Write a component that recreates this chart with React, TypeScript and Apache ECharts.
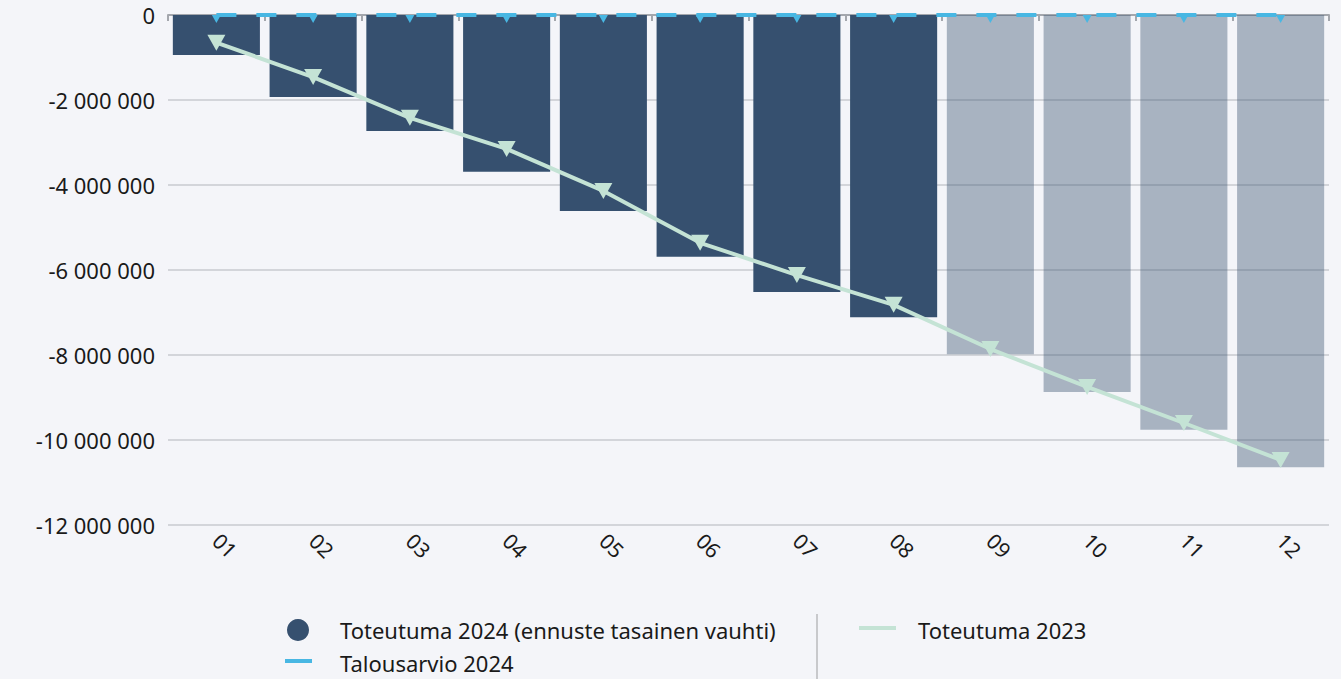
import React, { useEffect, useRef } from "react";
import * as echarts from "echarts";

const months = ["01", "02", "03", "04", "05", "06", "07", "08", "09", "10", "11", "12"];
const toteutuma2024 = [-940000, -1930000, -2730000, -3690000, -4610000, -5690000, -6520000, -7110000, -7980000, -8870000, -9760000, -10640000];
const forecastFrom = 8; // index of first forecast month (09)
const talousarvio2024 = [0, 0, 0, 0, 0, 0, 0, 0, 0, 0, 0, 0];
const toteutuma2023 = [-650000, -1460000, -2420000, -3150000, -4140000, -5360000, -6120000, -6820000, -7860000, -8750000, -9600000, -10470000];
const yTicks = { min: -12000000, max: 0, interval: 2000000 };

const FONT = "'Noto Sans', 'Open Sans', sans-serif";
const BG = "#f4f5f9";
const BAR = "#36506f";
const BLUE = "#48b7e3";
const MINT = "#c4e3d5";
const TXT = "#1a1a1a";

const fmt = (v: number) => {
  const s = Math.abs(v).toString().replace(/\B(?=(\d{3})+(?!\d))/g, " ");
  return (v < 0 ? "-" : "") + s;
};

export default function App() {
  const ref = useRef<HTMLDivElement>(null);
  useEffect(() => {
    document.body.style.margin = "0";
    document.body.style.background = BG;
    const chart = echarts.init(ref.current!, undefined, { renderer: "svg" });
    chart.setOption({
      animation: false,
      backgroundColor: BG,
      textStyle: { fontFamily: FONT },
      grid: { left: 168, right: 12, top: 15, bottom: 154, containLabel: false },
      xAxis: {
        type: "category",
        data: months,
        boundaryGap: true,
        axisLine: { lineStyle: { color: "#a4a7ad", width: 2 } },
        axisTick: { show: true, length: 6, lineStyle: { color: "#a4a7ad", width: 2 } },
        axisLabel: { rotate: -45, color: TXT, fontSize: 21, fontFamily: FONT, margin: 12 },
      },
      yAxis: {
        type: "value",
        min: yTicks.min,
        max: yTicks.max,
        interval: yTicks.interval,
        axisLine: { show: false },
        axisTick: { show: false },
        splitLine: { lineStyle: { color: "#d3d5da", width: 2 } },
        axisLabel: { color: TXT, fontSize: 22, fontFamily: FONT, margin: 13, formatter: fmt },
      },
      series: [
        {
          name: "Toteutuma 2024 (ennuste tasainen vauhti)",
          type: "bar",
          barCategoryGap: "10%",
          data: toteutuma2024.map((v, i) => ({
            value: v,
            itemStyle: { color: BAR, opacity: i >= forecastFrom ? 0.4 : 1 },
          })),
          z: 2,
        },
        {
          name: "Talousarvio 2024",
          type: "line",
          data: talousarvio2024,
          lineStyle: { color: BLUE, width: 4, type: [20, 20] },
          itemStyle: { color: BLUE },
          symbol: "triangle",
          symbolRotate: 180,
          symbolSize: [9, 8],
          symbolOffset: [0, 4],
          showAllSymbol: true,
          z: 4,
        },
        {
          name: "Toteutuma 2023",
          type: "line",
          data: toteutuma2023,
          lineStyle: { color: MINT, width: 4 },
          itemStyle: { color: MINT },
          symbol: "triangle",
          symbolRotate: 180,
          symbolSize: [18, 16],
          showAllSymbol: true,
          z: 5,
        },
      ],
      graphic: [
        { type: "circle", shape: { cx: 298, cy: 630, r: 11 }, style: { fill: BAR } },
        { type: "text", x: 340, y: 630, style: { text: "Toteutuma 2024 (ennuste tasainen vauhti)", fill: TXT, font: `22px ${FONT}`, textVerticalAlign: "middle" } },
        { type: "rect", shape: { x: 285, y: 659, width: 27, height: 4 }, style: { fill: BLUE } },
        { type: "text", x: 340, y: 663, style: { text: "Talousarvio 2024", fill: TXT, font: `22px ${FONT}`, textVerticalAlign: "middle" } },
        { type: "rect", shape: { x: 816, y: 614, width: 2, height: 65 }, style: { fill: "#c8c9cc" } },
        { type: "rect", shape: { x: 859, y: 626, width: 37, height: 4 }, style: { fill: MINT } },
        { type: "text", x: 918, y: 630, style: { text: "Toteutuma 2023", fill: TXT, font: `22px ${FONT}`, textVerticalAlign: "middle" } },
      ],
    });
    return () => chart.dispose();
  }, []);
  return <div ref={ref} style={{ width: 1341, height: 679, background: BG }} />;
}
